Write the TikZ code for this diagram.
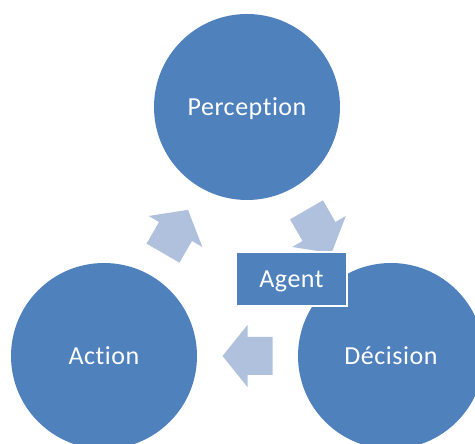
\documentclass[tikz,border=0pt]{standalone}
\usepackage{fontspec}
\setmainfont{Carlito}[LetterSpace=2, Ligatures=NoCommon]
\usetikzlibrary{calc}

\definecolor{stageblue}{RGB}{79,129,189}
\definecolor{flowblue}{RGB}{175,193,220}

\tikzset{flowarrow/.pic = {
    \fill[flowblue] (-25,-19) -- (0,-19) -- (0,-31) -- (25,0)
      -- (0,31) -- (0,19) -- (-25,19) -- cycle;}}

\begin{document}
\begin{tikzpicture}[x=1pt,y=1pt,
      stage/.style = {shape=circle, fill=stageblue, text=white,
        minimum size=186pt, inner sep=0pt, text height=17pt, text depth=0pt,
        font=\fontsize{26}{30}\selectfont},
      box/.style = {shape=rectangle, fill=stageblue, draw=white,
        line width=1.5pt, text=white, minimum width=111pt,
        minimum height=54pt, inner sep=0pt, text height=17pt, text depth=0pt,
        font=\fontsize{26}{30}\selectfont}]
  \useasboundingbox (0,0) rectangle (475,444);
  \clip (0,0) rectangle (475,444);
  \node[stage] (per) at (247,337) {Perception};
  \node[stage] (act) at (104,88) {Action};
  \node[stage] (dec) at (391,88) {Décision};
  \path ($(act)!.5!(per)$) pic[rotate=60] {flowarrow};
  \path ($(per)!.5!(dec)$) pic[rotate=-60] {flowarrow};
  \path ($(dec)!.5!(act)$) pic[rotate=180] {flowarrow};
  \node[box] (agent) at (291.5,165) {Agent};
\end{tikzpicture}
\end{document}
